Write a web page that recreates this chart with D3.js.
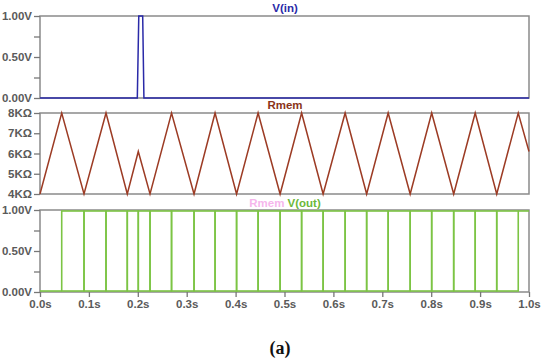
<!DOCTYPE html>
<meta charset="utf-8">
<script src="https://d3js.org/d3.v7.min.js"></script>
<style>
  body { margin: 0; background: #fff; }
  .frame { fill: none; stroke: #8a8a8a; stroke-width: 1.5px; }
</style>
<body>
<svg width="550" height="363"></svg>
<script>
// V(in) pulse
var vinT = [0, 0.199, 0.202, 0.210, 0.2125, 1.0];
var vinV = [0, 0, 1, 1, 0, 0];

// Rmem triangle wave (KΩ), extremes
var rmemT = [0, 0.0444, 0.090, 0.135, 0.1785, 0.201, 0.225, 0.269, 0.315, 0.358, 0.402,
             0.446, 0.491, 0.535, 0.579, 0.624, 0.668, 0.712, 0.757, 0.801, 0.846,
             0.890, 0.934, 0.978, 1.0];
var rmemK = [4, 8, 4, 8, 4, 6.1, 4, 8, 4, 8, 4, 8, 4, 8, 4, 8, 4, 8, 4, 8, 4, 8, 4, 8, 6.1];

// V(out) switching instants
var voutEdges = [0.0444, 0.090, 0.135, 0.1785, 0.201, 0.225, 0.269, 0.315, 0.358, 0.402,
                 0.446, 0.491, 0.535, 0.579, 0.624, 0.668, 0.712, 0.757, 0.801, 0.846,
                 0.890, 0.934, 0.978];

var xTicks = [0, 0.1, 0.2, 0.3, 0.4, 0.5, 0.6, 0.7, 0.8, 0.9, 1.0];
var voltTicks = [0, 0.25, 0.5, 0.75, 1];
var ohmTicks = [4, 5, 6, 7, 8];

var svg = d3.select("svg");
var x = d3.scaleLinear().domain([0, 1]).range([40, 529]);
var font = "Liberation Sans, Arial, sans-serif";

var panels = [
  {top: 16, bot: 98, dom: [0, 1]},
  {top: 113, bot: 194, dom: [4, 8]},
  {top: 210, bot: 292, dom: [0, 1]}
];
panels.forEach(function(p){ p.y = d3.scaleLinear().domain(p.dom).range([p.bot, p.top]); });

function voltFmt(d){ return (d * 4) % 2 === 0 ? d.toFixed(2) + "V" : ""; }
function styleAxis(g){
  g.select(".domain").remove();
  g.selectAll("line").attr("stroke", "#777").attr("stroke-width", 1.3);
  g.selectAll("text").attr("font-family", font).attr("font-weight", "bold").attr("fill", "#5a5a5a").attr("font-size", 11.5);
}

// frames first, traces go on top
panels.forEach(function(p){
  svg.append("rect").attr("class", "frame")
    .attr("x", x(0)).attr("y", p.top).attr("width", x(1) - x(0)).attr("height", p.bot - p.top);
});

// y axes
[0, 2].forEach(function(i){
  svg.append("g").attr("transform", "translate(40,0)")
    .call(d3.axisLeft(panels[i].y).tickValues(voltTicks).tickFormat(voltFmt).tickSize(6).tickPadding(2))
    .call(styleAxis);
});
svg.append("g").attr("transform", "translate(40,0)")
  .call(d3.axisLeft(panels[1].y).tickValues(ohmTicks).tickFormat(function(d){ return d + "KΩ"; }).tickSize(6).tickPadding(2))
  .call(styleAxis);

// x axis under bottom panel
svg.append("g").attr("transform", "translate(0,292)")
  .call(d3.axisBottom(x).tickValues(xTicks).tickFormat(function(d){ return d.toFixed(1) + "s"; }).tickSize(5).tickPadding(3))
  .call(styleAxis);

// traces
var line1 = d3.line().x(function(d){ return x(d[0]); }).y(function(d){ return panels[0].y(d[1]); });
svg.append("path").attr("d", line1(d3.zip(vinT, vinV)))
  .attr("fill", "none").attr("stroke", "#2a2aa8").attr("stroke-width", 1.5);

var line2 = d3.line().x(function(d){ return x(d[0]); }).y(function(d){ return panels[1].y(d[1]); });
svg.append("path").attr("d", line2(d3.zip(rmemT, rmemK)))
  .attr("fill", "none").attr("stroke", "#9c3b24").attr("stroke-width", 1.5);

// V(out): low before first edge, both rails between edges, high after last
var y3 = panels[2].y;
var g3 = svg.append("g").attr("fill", "none").attr("stroke", "#7cc444").attr("stroke-width", 1.6);
g3.append("line").attr("x1", x(0)).attr("x2", x(voutEdges[0])).attr("y1", y3(0) - 1).attr("y2", y3(0) - 1);
g3.selectAll("rect").data(d3.pairs(voutEdges)).enter().append("rect")
  .attr("x", function(d){ return x(d[0]); }).attr("width", function(d){ return x(d[1]) - x(d[0]); })
  .attr("y", y3(1) + 1).attr("height", y3(0) - y3(1) - 2);
g3.append("line").attr("x1", x(voutEdges[voutEdges.length - 1])).attr("x2", x(1)).attr("y1", y3(1) + 1).attr("y2", y3(1) + 1);

// titles
svg.append("text").attr("x", 285).attr("y", 12).attr("text-anchor", "middle")
  .attr("font-family", font).attr("font-weight", "bold").attr("font-size", 11.5).attr("fill", "#2a2aa8").text("V(in)");
svg.append("text").attr("x", 285).attr("y", 109).attr("text-anchor", "middle")
  .attr("font-family", font).attr("font-weight", "bold").attr("font-size", 11.5).attr("fill", "#8a3418").text("Rmem");
var t3 = svg.append("text").attr("x", 285).attr("y", 207).attr("text-anchor", "middle")
  .attr("font-family", font).attr("font-weight", "bold").attr("font-size", 11.5);
t3.append("tspan").attr("fill", "#f6b6ec").text("Rmem ");
t3.append("tspan").attr("fill", "#6cb83a").text("V(out)");

svg.append("text").attr("x", 280).attr("y", 354).attr("text-anchor", "middle")
  .attr("font-family", "Liberation Serif, serif").attr("font-weight", "bold").attr("font-size", 18)
  .attr("fill", "#111").text("(a)");
</script>
</body>
